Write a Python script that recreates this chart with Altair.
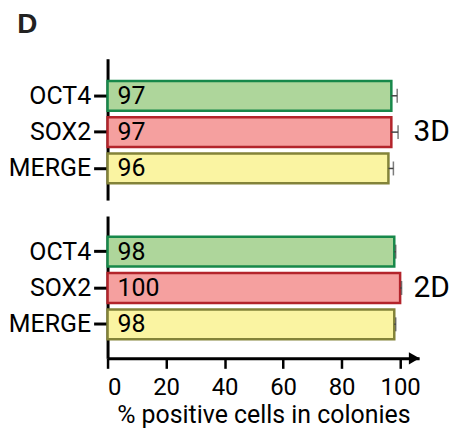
import altair as alt
import pandas as pd

markers = ["OCT4", "SOX2", "MERGE"]
vals_3d = [97, 97, 96]
err_3d = [2.0, 2.3, 1.7]
vals_2d = [98, 100, 98]
err_2d = [0.5, 0.5, 0.5]
fills = ["#aed69b", "#f5a09f", "#faf4a2"]
strokes = ["#17884a", "#b3242b", "#838339"]
x_ticks = [0, 20, 40, 60, 80, 100]
x_title = "% positive cells in colonies"

FONT = "Roboto, Liberation Sans, sans-serif"
W = 313


def panel(vals, errs, tag, height, show_x, pad_outer, align):
    df = pd.DataFrame({"marker": markers, "value": vals, "err": errs,
                       "label": [str(v) for v in vals]})
    df["hi"] = df["value"] + df["err"]
    xscale = alt.Scale(domain=[0, 106.5], nice=False, zero=True)
    yscale = alt.Scale(domain=markers, paddingInner=0.18, paddingOuter=pad_outer, align=align)
    yaxis = alt.Axis(title=None, domainWidth=3, domainColor="black", tickWidth=3,
                     tickColor="black", tickSize=14, labelPadding=3, labelFontSize=25,
                     labelFont=FONT, labelColor="black")
    yenc = alt.Y("marker:N", scale=yscale, sort=markers, axis=yaxis)
    if show_x:
        xaxis = alt.Axis(values=x_ticks, title=x_title, domainWidth=3, domainColor="black",
                         tickWidth=2.5, tickColor="black", tickSize=10, labelFontSize=24,
                         labelFont=FONT, labelColor="black", labelPadding=7,
                         titleFontSize=25, titleFont=FONT, titleFontWeight="normal",
                         titleColor="black", titlePadding=3, grid=False)
    else:
        xaxis = None
    base = alt.Chart(df)
    bars = base.mark_bar(strokeWidth=2.5).encode(
        x=alt.X("value:Q", scale=xscale, axis=xaxis),
        y=yenc,
        fill=alt.Fill("marker:N", scale=alt.Scale(domain=markers, range=fills), legend=None),
        stroke=alt.Stroke("marker:N", scale=alt.Scale(domain=markers, range=strokes), legend=None),
    )
    err = base.mark_rule(color="#444444", strokeWidth=1.5).encode(
        x="value:Q", x2="hi:Q", y=alt.Y("marker:N", sort=markers))
    caps = base.mark_tick(color="#444444", thickness=1.5, size=14).encode(
        x="hi:Q", y=alt.Y("marker:N", sort=markers))
    text = base.mark_text(align="left", dx=10, fontSize=25, font=FONT, color="black").encode(
        x=alt.datum(0), y=alt.Y("marker:N", sort=markers), text="label:N")
    tagc = alt.Chart(pd.DataFrame({"t": [tag]})).mark_text(
        align="left", fontSize=30, font=FONT, color="black").encode(
        x=alt.datum(104.6), y=alt.datum("SOX2"), text="t:N")
    layers = [bars, err, caps, text, tagc]
    if show_x:
        arrow = alt.Chart(pd.DataFrame({"a": [1]})).mark_point(
            shape="triangle-right", filled=True, color="black", size=150, opacity=1).encode(
            x=alt.datum(104.8), y=alt.value(height))
        layers.append(arrow)
    return alt.layer(*layers).properties(width=W, height=height)


top = panel(vals_3d, err_3d, "3D", 142, False, 0.535, 0.57)
bottom = panel(vals_2d, err_2d, "2D", 143, True, 0.549, 0.52)

chart = alt.vconcat(top, bottom, spacing=16).properties(
    title=alt.Title("D", anchor="start", fontSize=28, fontWeight="bold",
                    font="Liberation Sans, sans-serif", color="#222222", offset=20, dx=9),
    padding={"left": 0, "top": 2, "right": 0, "bottom": 0},
).configure_view(stroke=None)

chart.save("out.html", embed_options={"renderer": "svg", "actions": False})
